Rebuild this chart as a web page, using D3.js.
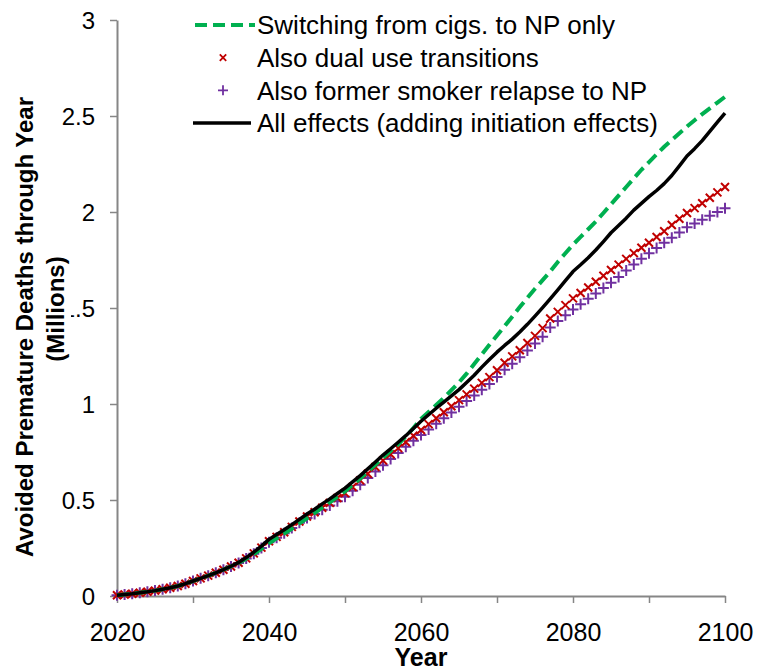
<!DOCTYPE html>
<html>
<head>
<meta charset="utf-8">
<script src="https://cdn.jsdelivr.net/npm/d3@7/dist/d3.min.js"></script>
<style>
  html, body { margin: 0; padding: 0; background: #fff; }
  svg { display: block; font-family: "Liberation Sans", Arial, sans-serif; }
</style>
</head>
<body>
<svg id="chart" width="757" height="672"></svg>
<script>
// Cumulative avoided premature deaths (millions), one value per year 2020-2100
const years = d3.range(2020, 2101);

const switchingOnly = [
  0.004, 0.008, 0.012, 0.017, 0.022, 0.028, 0.035, 0.043, 0.052, 0.064,
  0.078, 0.092, 0.106, 0.121, 0.137, 0.154, 0.172, 0.194, 0.218, 0.246,
  0.275, 0.300, 0.325, 0.350, 0.378, 0.405, 0.432, 0.460, 0.488, 0.516,
  0.545, 0.578, 0.612, 0.648, 0.684, 0.720, 0.755, 0.790, 0.830, 0.875,
  0.922, 0.958, 0.995, 1.032, 1.072, 1.113, 1.158, 1.208, 1.258, 1.308,
  1.357, 1.405, 1.455, 1.505, 1.553, 1.600, 1.645, 1.690, 1.740, 1.785,
  1.830, 1.870, 1.910, 1.950, 1.995, 2.040, 2.085, 2.130, 2.175, 2.220,
  2.260, 2.300, 2.340, 2.375, 2.410, 2.445, 2.478, 2.510, 2.540, 2.570,
  2.600
];

const dualUse = [
  0.004, 0.008, 0.012, 0.017, 0.022, 0.028, 0.035, 0.043, 0.052, 0.064,
  0.078, 0.092, 0.106, 0.121, 0.137, 0.154, 0.173, 0.196, 0.222, 0.252,
  0.285, 0.308, 0.332, 0.360, 0.388, 0.414, 0.436, 0.460, 0.485, 0.510,
  0.536, 0.568, 0.602, 0.637, 0.672, 0.706, 0.738, 0.770, 0.802, 0.835,
  0.865, 0.895, 0.926, 0.957, 0.988, 1.020, 1.050, 1.080, 1.110, 1.140,
  1.176, 1.215, 1.248, 1.280, 1.318, 1.355, 1.395, 1.445, 1.480, 1.515,
  1.550, 1.578, 1.607, 1.637, 1.668, 1.698, 1.726, 1.756, 1.786, 1.814,
  1.840, 1.870, 1.900, 1.932, 1.965, 1.995, 2.020, 2.046, 2.074, 2.102,
  2.130
];

const formerRelapse = [
  0.004, 0.008, 0.012, 0.017, 0.022, 0.028, 0.035, 0.043, 0.052, 0.064,
  0.078, 0.092, 0.106, 0.121, 0.137, 0.154, 0.172, 0.195, 0.220, 0.250,
  0.280, 0.303, 0.327, 0.354, 0.381, 0.406, 0.427, 0.449, 0.471, 0.494,
  0.517, 0.548, 0.580, 0.614, 0.648, 0.681, 0.713, 0.745, 0.777, 0.808,
  0.838, 0.867, 0.897, 0.926, 0.956, 0.986, 1.015, 1.044, 1.074, 1.104,
  1.140, 1.178, 1.210, 1.243, 1.279, 1.315, 1.350, 1.398, 1.432, 1.462,
  1.492, 1.520, 1.548, 1.576, 1.604, 1.632, 1.662, 1.695, 1.727, 1.757,
  1.785, 1.812, 1.840, 1.866, 1.893, 1.920, 1.940, 1.960, 1.980, 2.000,
  2.020
];

const allEffects = [
  0.004, 0.008, 0.012, 0.017, 0.022, 0.028, 0.035, 0.043, 0.052, 0.064,
  0.078, 0.092, 0.106, 0.121, 0.137, 0.155, 0.175, 0.200, 0.228, 0.260,
  0.295, 0.320, 0.345, 0.372, 0.399, 0.427, 0.452, 0.480, 0.506, 0.534,
  0.562, 0.594, 0.627, 0.662, 0.698, 0.734, 0.767, 0.801, 0.835, 0.872,
  0.910, 0.944, 0.978, 1.010, 1.042, 1.075, 1.112, 1.150, 1.192, 1.232,
  1.270, 1.305, 1.338, 1.375, 1.415, 1.458, 1.502, 1.548, 1.594, 1.642,
  1.690, 1.725, 1.762, 1.802, 1.846, 1.892, 1.930, 1.968, 2.010, 2.045,
  2.080, 2.112, 2.148, 2.190, 2.240, 2.292, 2.330, 2.372, 2.420, 2.468,
  2.515
];

const seriesNames = [
  "Switching from cigs. to NP only",
  "Also dual use transitions",
  "Also former smoker relapse to NP",
  "All effects (adding initiation effects)"
];

const xTickValues = d3.range(2020, 2101, 10);
const xTickLabels = [2020, 2040, 2060, 2080, 2100];
const yTickValues = [0, 0.5, 1, 1.5, 2, 2.5, 3];

const xTitle = "Year";
const yTitleLines = ["Avoided Premature Deaths through Year", "(Millions)"];

// ---- layout ----
const svg = d3.select("#chart");
const plot = { left: 117, right: 725, top: 20, bottom: 596 };
const axisColor = "#868686";
const fontSize = 24;
const legendFontSize = 26;
const fontFamily = "Liberation Sans, Arial, sans-serif";

const x = d3.scaleLinear().domain([2020, 2100]).range([plot.left, plot.right]);
const y = d3.scaleLinear().domain([0, 3]).range([plot.bottom, plot.top]);

// x axis: ticks every 10 years, labels every 20
const xAxis = d3.axisBottom(x)
  .tickValues(xTickValues)
  .tickSize(7)
  .tickSizeOuter(0)
  .tickFormat(d => xTickLabels.includes(d) ? String(d) : "");
const gx = svg.append("g")
  .attr("transform", `translate(0,${plot.bottom})`)
  .call(xAxis);
gx.select(".domain").attr("stroke", axisColor).attr("stroke-width", 2);
gx.selectAll(".tick line").attr("stroke", axisColor).attr("stroke-width", 1.5);
gx.selectAll(".tick text")
  .attr("fill", "#000")
  .attr("font-size", 25)
  .attr("font-family", fontFamily)
  .attr("y", 27)
  .attr("dy", "0.71em");

// y axis
const yAxis = d3.axisLeft(y)
  .tickValues(yTickValues)
  .tickSize(7)
  .tickSizeOuter(0)
  .tickFormat(d3.format("~g"));
const gy = svg.append("g")
  .attr("transform", `translate(${plot.left},0)`)
  .call(yAxis);
gy.select(".domain").attr("stroke", axisColor).attr("stroke-width", 2);
gy.selectAll(".tick line").attr("stroke", axisColor).attr("stroke-width", 1.5);
gy.selectAll(".tick text")
  .attr("fill", "#000")
  .attr("font-size", fontSize)
  .attr("font-family", fontFamily)
  .attr("x", -22)
  .attr("dy", "0.35em");

// ---- series ----
const pts = arr => years.map((yr, i) => [yr, arr[i]]);
const line = d3.line().x(d => x(d[0])).y(d => y(d[1]));

const purple = "#7030A0";
const red = "#C00000";
const green = "#00B050";

const crossPath = s => `M${-s},${-s}L${s},${s}M${-s},${s}L${s},${-s}`;
const plusPath = s => `M${-s},0L${s},0M0,${-s}L0,${s}`;

const series = svg.append("g");

// purple "+" markers
series.append("g").selectAll("path")
  .data(pts(formerRelapse))
  .join("path")
  .attr("transform", d => `translate(${x(d[0])},${y(d[1])})`)
  .attr("d", plusPath(5.5))
  .attr("stroke", purple)
  .attr("stroke-width", 2)
  .attr("fill", "none");

// red "x" markers joined by a thin line
series.append("path")
  .datum(pts(dualUse))
  .attr("d", line)
  .attr("fill", "none")
  .attr("stroke", red)
  .attr("stroke-width", 1);
series.append("g").selectAll("path")
  .data(pts(dualUse))
  .join("path")
  .attr("transform", d => `translate(${x(d[0])},${y(d[1])})`)
  .attr("d", crossPath(4))
  .attr("stroke", red)
  .attr("stroke-width", 2)
  .attr("fill", "none");

// green dashed
series.append("path")
  .datum(pts(switchingOnly))
  .attr("d", line)
  .attr("fill", "none")
  .attr("stroke", green)
  .attr("stroke-width", 4)
  .attr("stroke-dasharray", "12,6");

// black solid
series.append("path")
  .datum(pts(allEffects))
  .attr("d", line)
  .attr("fill", "none")
  .attr("stroke", "#000")
  .attr("stroke-width", 3.5)
  .attr("stroke-linejoin", "round");

// ---- axis titles ----
svg.append("text")
  .attr("x", (plot.left + plot.right) / 2)
  .attr("y", 666)
  .attr("text-anchor", "middle")
  .attr("font-size", 25)
  .attr("font-weight", "bold")
  .text(xTitle);

const yTitle = svg.append("g");
// first line
yTitle.append("text")
  .attr("transform", "translate(33,327) rotate(-90)")
  .attr("text-anchor", "middle")
  .attr("font-size", fontSize)
  .attr("font-weight", "bold")
  .text(yTitleLines[0]);
// second line sits on a white box
const t2 = yTitle.append("text")
  .attr("transform", "translate(64,309) rotate(-90)")
  .attr("text-anchor", "middle")
  .attr("font-size", fontSize)
  .attr("font-weight", "bold")
  .text(yTitleLines[1]);
const bb = t2.node().getBBox();
yTitle.insert("rect", "text:nth-of-type(2)")
  .attr("transform", "translate(64,309) rotate(-90)")
  .attr("x", bb.x - 2)
  .attr("y", bb.y - 1)
  .attr("width", bb.width + 4)
  .attr("height", bb.height + 3)
  .attr("fill", "#fff");

// ---- legend ----
const legendRows = [
  { name: seriesNames[0], kind: "dash" },
  { name: seriesNames[1], kind: "cross" },
  { name: seriesNames[2], kind: "plus" },
  { name: seriesNames[3], kind: "solid" }
];
const legend = svg.append("g");
const rowY = d3.scalePoint().domain(d3.range(legendRows.length)).range([25, 123]);
legendRows.forEach((r, i) => {
  const cy = rowY(i);
  const g = legend.append("g").attr("transform", `translate(0,${cy})`);
  if (r.kind === "dash") {
    g.append("line").attr("x1", 195).attr("x2", 255).attr("y1", 0).attr("y2", 0)
      .attr("stroke", green).attr("stroke-width", 4).attr("stroke-dasharray", "12,6");
  } else if (r.kind === "solid") {
    g.append("line").attr("x1", 193).attr("x2", 251).attr("y1", 0).attr("y2", 0)
      .attr("stroke", "#000").attr("stroke-width", 3.5);
  } else if (r.kind === "cross") {
    g.append("path").attr("transform", "translate(223,0)").attr("d", crossPath(3.2))
      .attr("stroke", red).attr("stroke-width", 1.8).attr("fill", "none");
  } else {
    g.append("path").attr("transform", "translate(223,0)").attr("d", plusPath(5))
      .attr("stroke", purple).attr("stroke-width", 1.8).attr("fill", "none");
  }
  g.append("text")
    .attr("x", 257)
    .attr("y", 0)
    .attr("dy", "0.36em")
    .attr("font-size", legendFontSize)
    .attr("fill", "#000")
    .text(r.name);
});
</script>
</body>
</html>
